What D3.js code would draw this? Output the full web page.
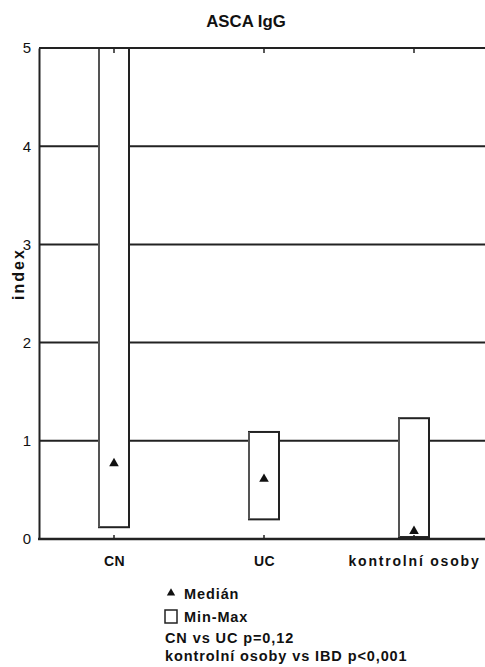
<!DOCTYPE html>
<html>
<head>
<meta charset="utf-8">
<script src="https://cdn.jsdelivr.net/npm/d3@7"></script>
<style>
  html, body { margin: 0; padding: 0; background: #fff; }
  svg { display: block; font-family: "Liberation Sans", Arial, sans-serif; }
</style>
</head>
<body>
<svg id="chart" width="485" height="667"></svg>
<script>
// ASCA IgG index by group: min-max range and median
const categories = ["CN", "UC", "kontrolní osoby"];
const minValues = [0.12, 0.20, 0.02];
const maxValues = [5.0, 1.09, 1.23];
const medianValues = [0.77, 0.61, 0.08];
const yTicks = [0, 1, 2, 3, 4, 5];

const svg = d3.select("#chart");
const ink = "#222";

const margin = { left: 39, top: 48, right: -4, bottom: 128 };
const W = 485, H = 667;
const x = d3.scalePoint().domain(categories)
  .range([margin.left, W - margin.right]).padding(0.5);
const y = d3.scaleLinear().domain([0, 5]).range([539, 48]);

// title
svg.append("text").attr("x", 246).attr("y", 27)
  .attr("text-anchor", "middle").attr("font-weight", "bold")
  .attr("font-size", 16.8).attr("fill", "#111").text("ASCA IgG");

// y-axis title
svg.append("text")
  .attr("transform", `translate(24,274) rotate(-90)`)
  .attr("text-anchor", "middle").attr("font-weight", "bold")
  .attr("font-size", 16).attr("letter-spacing", 2)
  .attr("fill", "#111").text("index");

// horizontal grid lines at each index step
svg.append("g").selectAll("line").data(yTicks.filter(d => d > 0)).join("line")
  .attr("x1", margin.left).attr("x2", W)
  .attr("y1", d => y(d)).attr("y2", d => y(d))
  .attr("stroke", ink).attr("stroke-width", 2);

// y axis with labels
const yAxis = svg.append("g").attr("transform", `translate(${margin.left},0)`)
  .call(d3.axisLeft(y).tickValues(yTicks).tickSize(0).tickPadding(8).tickFormat(d3.format("d")));
yAxis.select(".domain").attr("stroke", ink).attr("stroke-width", 2);
yAxis.selectAll("text").attr("font-size", 15)
  .attr("font-family", "'Liberation Sans', Arial, sans-serif").attr("fill", "#111");

// min-max boxes
const boxW = 30;
svg.append("g").selectAll("rect").data(categories).join("rect")
  .attr("x", d => x(d) - boxW / 2)
  .attr("width", boxW)
  .attr("y", (d, i) => y(maxValues[i]))
  .attr("height", (d, i) => y(minValues[i]) - y(maxValues[i]))
  .attr("fill", "#fff").attr("stroke", ink).attr("stroke-width", 2);
// lighter left edges of the boxes
svg.append("g").selectAll("line").data(categories).join("line")
  .attr("x1", d => x(d) - boxW / 2).attr("x2", d => x(d) - boxW / 2)
  .attr("y1", (d, i) => y(maxValues[i])).attr("y2", (d, i) => y(minValues[i]))
  .attr("stroke", "#666").attr("stroke-width", 1.5);

// redraw top line over CN box
svg.append("line").attr("x1", margin.left).attr("x2", W)
  .attr("y1", y(5)).attr("y2", y(5)).attr("stroke", ink).attr("stroke-width", 2);

// x axis
const xAxis = svg.append("g").attr("transform", `translate(0,${y(0)})`)
  .call(d3.axisBottom(x).tickSize(0).tickPadding(17));
xAxis.select(".domain").remove();
xAxis.selectAll("text").attr("font-size", 14).attr("font-weight", "bold")
  .attr("letter-spacing", (d, i) => i === 2 ? 1.8 : 0.4)
  .attr("font-family", "'Liberation Sans', Arial, sans-serif").attr("fill", "#111");
svg.append("line").attr("x1", margin.left - 1).attr("x2", W)
  .attr("y1", y(0)).attr("y2", y(0)).attr("stroke", ink).attr("stroke-width", 2.5);

// inward tick marks at top and bottom
svg.append("g").selectAll("line").data(categories).join("line")
  .attr("x1", d => x(d)).attr("x2", d => x(d))
  .attr("y1", y(0)).attr("y2", y(0) - 4)
  .attr("stroke", ink).attr("stroke-width", 1.5);
svg.append("g").selectAll("line").data(categories).join("line")
  .attr("x1", d => x(d)).attr("x2", d => x(d))
  .attr("y1", y(5)).attr("y2", y(5) + 5)
  .attr("stroke", ink).attr("stroke-width", 1.5);

// medians
const tri = d3.symbol().type(d3.symbolTriangle).size(40);
svg.append("g").selectAll("path").data(categories).join("path")
  .attr("d", tri)
  .attr("transform", (d, i) => `translate(${x(d)},${y(medianValues[i])})`)
  .attr("fill", "#111");

// legend
const lg = svg.append("g").attr("font-weight", "bold").attr("font-size", 14.5)
  .attr("fill", "#111").attr("letter-spacing", 0.9);
lg.append("path").attr("d", d3.symbol().type(d3.symbolTriangle).size(30))
  .attr("transform", "translate(171,593)").attr("fill", "#111");
lg.append("text").attr("x", 184).attr("y", 599).text("Medián");
lg.append("rect").attr("x", 165).attr("y", 610).attr("width", 12).attr("height", 13)
  .attr("fill", "#fff").attr("stroke", ink).attr("stroke-width", 1.5);
lg.append("text").attr("x", 184).attr("y", 622).text("Min-Max");
lg.append("text").attr("x", 165).attr("y", 643).text("CN vs UC p=0,12");
lg.append("text").attr("x", 165).attr("y", 661).text("kontrolní osoby vs IBD p<0,001");
</script>
</body>
</html>
